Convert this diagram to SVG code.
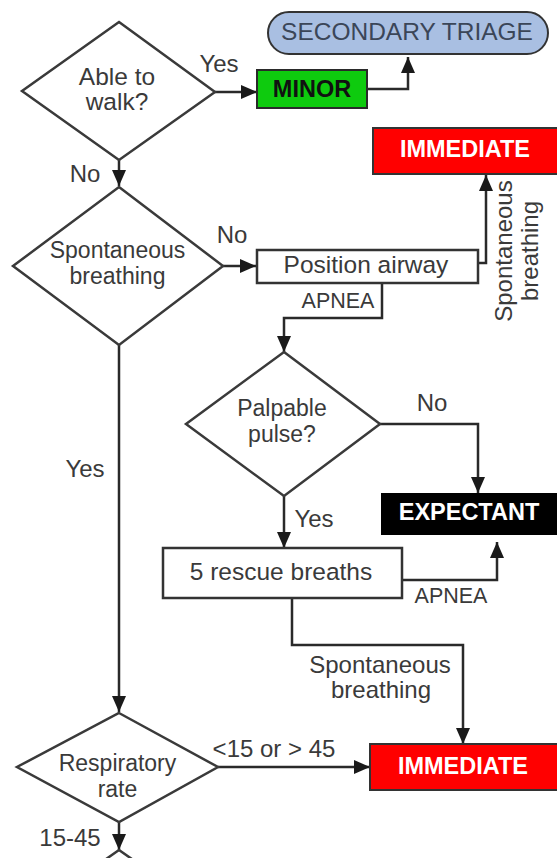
<svg xmlns="http://www.w3.org/2000/svg" width="557" height="858" viewBox="0 0 557 858">
<defs>
<marker id="ah" markerUnits="userSpaceOnUse" viewBox="0 0 16 14" refX="16" refY="7" markerWidth="16" markerHeight="14" orient="auto">
<path d="M0,0 L16,7 L0,14 z" fill="#1a1a1a"/>
</marker>
<style>
.dm{fill:#fff;stroke:#3a3a3a;stroke-width:2.5}
.bx{fill:#fff;stroke:#333;stroke-width:2.5}
.t{font-family:"Liberation Sans",Arial,sans-serif;font-size:24.5px;fill:#3a3a3a;text-anchor:middle}
.d{font-family:"Liberation Sans",Arial,sans-serif;font-size:23px;fill:#3a3a3a;text-anchor:middle}
.lb{font-family:"Liberation Sans",Arial,sans-serif;font-size:24px;fill:#3a3a3a;text-anchor:middle}
.sm{font-family:"Liberation Sans",Arial,sans-serif;font-size:21.5px;fill:#3a3a3a;text-anchor:middle}
.bd{font-family:"Liberation Sans",Arial,sans-serif;font-size:23.5px;font-weight:bold;text-anchor:middle}
.cn{fill:none;stroke:#2a2a2a;stroke-width:2.5;marker-end:url(#ah)}
</style>
</defs>
<rect width="557" height="858" fill="#fff"/>

<g id="connectors">
<path class="cn" d="M215,92 H257"/>
<path class="cn" d="M367,89 H408 V57"/>
<path class="cn" d="M119,160 V186"/>
<path class="cn" d="M223,266 H256"/>
<path class="cn" d="M478,263 H486 V175"/>
<path class="cn" d="M382,283 V318 H284 V352"/>
<path class="cn" d="M380,424 H478 V493"/>
<path class="cn" d="M284,496 V548"/>
<path class="cn" d="M402,580 H497 V542"/>
<path class="cn" d="M292,598 V645 H463 V744"/>
<path class="cn" d="M119,345 V712"/>
<path class="cn" d="M218,767 H370"/>
<path class="cn" d="M119,822 V850"/>
<text class="lb" x="219" y="72">Yes</text>
<text class="lb" x="85" y="182">No</text>
<text class="lb" x="232" y="243">No</text>
<text class="sm" x="338" y="308">APNEA</text>
<text class="lb" transform="translate(512,251) rotate(-90)">Spontaneous</text>
<text class="lb" transform="translate(538,251) rotate(-90)">breathing</text>
<text class="lb" x="432" y="411">No</text>
<text class="lb" x="314" y="527">Yes</text>
<text class="sm" x="451" y="603">APNEA</text>
<text class="lb" x="380" y="673">Spontaneous</text>
<text class="lb" x="381" y="698">breathing</text>
<text class="lb" x="85" y="477">Yes</text>
<text class="lb" x="274" y="757">&lt;15 or &gt; 45</text>
<text class="lb" x="70" y="846">15-45</text>
</g>

<g id="walk">
<polygon class="dm" points="119,22 215,92 119,160 22,91"/>
<text class="t" x="117" y="85">Able to</text>
<text class="t" x="117" y="110">walk?</text>
</g>

<g id="minor">
<rect x="257" y="70" width="110" height="38" fill="#0ecb0e" stroke="#2a2a2a" stroke-width="2"/>
<text class="bd" x="312" y="97" fill="#111">MINOR</text>
</g>

<g id="secondary">
<rect x="268" y="12" width="280" height="42" rx="21" ry="21" fill="#a9bfe2" stroke="#333" stroke-width="2"/>
<text class="t" x="407" y="40" style="fill:#3b4658">SECONDARY TRIAGE</text>
</g>

<g id="immediate1">
<rect x="373" y="128" width="190" height="46" fill="#ff0000" stroke="#333" stroke-width="2"/>
<text class="bd" x="465" y="157" fill="#fff">IMMEDIATE</text>
</g>

<g id="breathing">
<polygon class="dm" points="119,187 223,266 119,345 13,266"/>
<text class="d" x="117.5" y="258">Spontaneous</text>
<text class="d" x="117.5" y="284">breathing</text>
</g>

<g id="airway">
<rect class="bx" x="257" y="250" width="221" height="33"/>
<text class="t" x="366" y="273">Position airway</text>
</g>

<g id="pulse">
<polygon class="dm" points="284,352 380,424 284,496 186,424"/>
<text class="d" x="282" y="416">Palpable</text>
<text class="d" x="282" y="442">pulse?</text>
</g>

<g id="expectant">
<rect x="382" y="494" width="180" height="40" fill="#000" stroke="#000" stroke-width="2"/>
<text class="bd" x="469" y="520" fill="#fff">EXPECTANT</text>
</g>

<g id="rescue">
<rect class="bx" x="163" y="548" width="239" height="50"/>
<text class="t" x="281" y="580">5 rescue breaths</text>
</g>

<g id="resp">
<polygon class="dm" points="119,713 218,767 119,822 17,767"/>
<text class="d" x="117.5" y="771">Respiratory</text>
<text class="d" x="117.5" y="797">rate</text>
</g>

<g id="immediate2">
<rect x="370" y="744" width="193" height="46" fill="#ff0000" stroke="#333" stroke-width="2"/>
<text class="bd" x="463" y="774" fill="#fff">IMMEDIATE</text>
</g>

<g id="next">
<polygon class="dm" points="119,850 219,920 119,990 19,920"/>
</g>
</svg>
